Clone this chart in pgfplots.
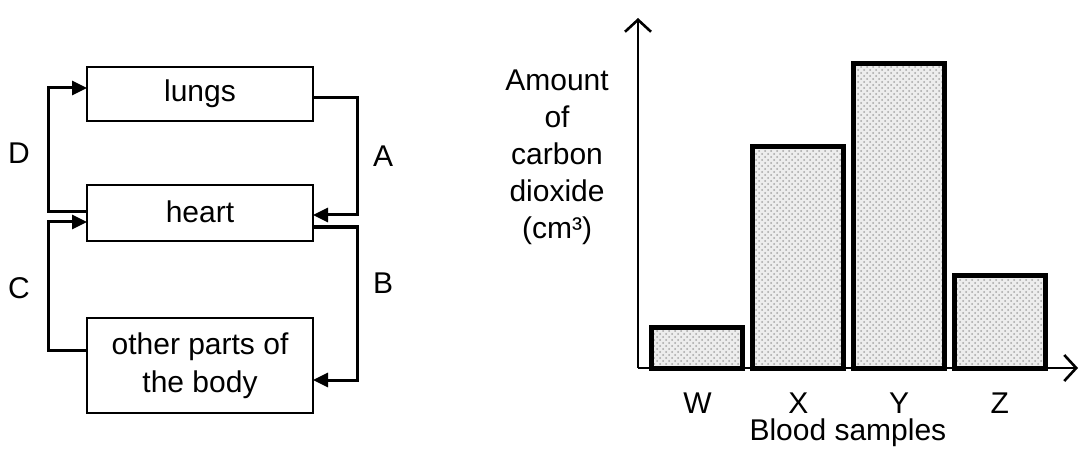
\documentclass[border=0pt]{standalone}
\usepackage{fontspec}
\setmainfont{Liberation Sans}
\usepackage{pgfplots}
\pgfplotsset{compat=1.18}
\usetikzlibrary{arrows.meta,patterns}
\begin{document}
\fontsize{15}{18.5}\selectfont
\begin{tikzpicture}
\useasboundingbox (0,0) rectangle (540pt,-227pt);
\begin{scope}[x=0.5pt,y=-0.5pt, line width=1.5pt, font=\fontsize{15}{19}\selectfont,
  arr/.style={-{Triangle[length=7.5pt,width=7pt]}}]
  % boxes
  \draw[line width=1.3pt] (87,67) rectangle (313,121);
  \node at (200,94) {lungs};
  \draw[line width=1.3pt] (87,185) rectangle (313,241);
  \node at (200,212) {heart};
  \draw[line width=1.3pt] (87,318) rectangle (313,413);
  \node[align=center] at (200,366) {other parts of\\the body};
  % arrows
  \draw[arr] (87,212) -- (48,212) -- (48,88) -- (87,88);
  \draw[arr] (87,350) -- (48,350) -- (48,222) -- (87,222);
  \draw[arr] (313,98) -- (357,98) -- (357,215) -- (313,215);
  \draw[arr] (313,227) -- (357,227) -- (357,380) -- (313,380);
  % labels
  \node at (19,153) {D};
  \node at (19,288) {C};
  \node at (383,156) {A};
  \node at (383,283) {B};
\end{scope}
\begin{axis}[
  at={(319pt,-184pt)}, anchor=south west,
  scale only axis, width=220pt, height=175pt,
  xmin=-0.590, xmax=3.775, ymin=0, ymax=350,
  axis lines=left,
  axis line style={line width=1.4pt},
  x axis line style={-{Straight Barb[length=6pt,width=13pt,line width=1.3pt]}},
  y axis line style={-{Straight Barb[length=6pt,width=13pt,line width=1.3pt]}},
  ybar, bar width=0.903,
  xtick={0,1,2,3}, xticklabels={W,X,Y,Z},
  ytick=\empty,
  major tick length=0pt,
  xticklabel style={anchor=center, yshift=-17.5pt, font=\fontsize{15}{18}\selectfont},
  xlabel={Blood samples},
  every axis x label/.style={at={(axis description cs:0.477,-0.186)}, anchor=center, font=\fontsize{15}{18}\selectfont},
  ylabel={Amount\\of\\carbon\\dioxide\\(cm³)},
  every axis y label/.style={at={(axis description cs:-0.184,0.603)}, anchor=center, align=center, font=\fontsize{15}{18.5}\selectfont},
  clip=false,
]
\addplot[draw=black, line width=2.5pt, fill=black!7,
  postaction={pattern=crosshatch dots, pattern color=black!35}]
  coordinates {(0,41) (1,221) (2,304) (3,93)};
\end{axis}
\end{tikzpicture}
\end{document}
